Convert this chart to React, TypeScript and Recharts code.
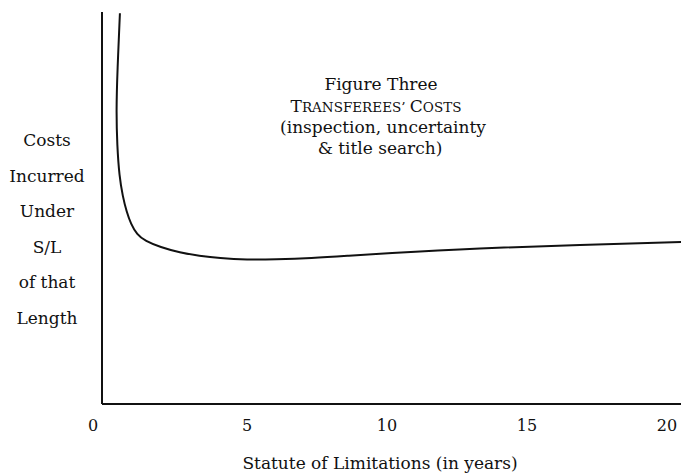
import { LineChart, Line, XAxis, YAxis } from 'recharts'

// years under the statute of limitations
const years = [0.46, 0.37, 0.33, 0.36, 0.44, 0.56, 0.7, 0.85, 1.07, 1.36, 1.9, 2.6, 3.3, 4.0, 5.0, 6.0, 7.3, 8.6, 9.8, 13.3, 16.9, 20.5]
// relative costs incurred (0 = axis, 100 = top of plot)
const costs = [99.7, 85, 75, 66, 58, 53, 49, 46, 43.2, 41.6, 40, 38.6, 37.8, 37.2, 36.8, 36.9, 37.2, 37.8, 38.4, 39.8, 40.6, 41.3]
const xTicks = [0, 5, 10, 15, 20]
const yLabelLines = ['Costs', 'Incurred', 'Under', 'S/L', 'of that', 'Length']
const titleLines = ['Figure Three', '(inspection, uncertainty', '& title search)']

const data = years.map((y, i) => ({ year: y, cost: costs[i] }))

const font = '"DejaVu Serif", "Liberation Serif", serif'

function Tick(props: any) {
  const { x, y, payload } = props
  const dx = payload.value === 0 ? -14 : 0
  return (
    <text x={x + dx} y={y} dy={19} textAnchor="middle" fontFamily={font} fontSize={16} fill="#111">
      {payload.value}
    </text>
  )
}

export default function App() {
  return (
    <div style={{ position: 'absolute', left: 0, top: 0, width: 681, height: 474, background: '#fff' }}>
      <LineChart width={681} height={474} data={data} margin={{ top: 12, right: 0, left: 100, bottom: 40 }}>
        <XAxis
          type="number"
          dataKey="year"
          domain={[-0.18, 20.5]}
          ticks={xTicks}
          tickLine={false}
          tick={<Tick />}
          axisLine={{ stroke: '#111', strokeWidth: 2 }}
          height={30}
          allowDataOverflow
        />
        <YAxis
          type="number"
          domain={[0, 100]}
          width={2}
          tick={false}
          tickLine={false}
          axisLine={{ stroke: '#111', strokeWidth: 2 }}
          allowDataOverflow
        />
        <Line
          type="basis"
          dataKey="cost"
          stroke="#111"
          strokeWidth={2}
          dot={false}
          isAnimationActive={false}
        />
      </LineChart>
      <svg width={681} height={474} style={{ position: 'absolute', left: 0, top: 0, pointerEvents: 'none' }}>
        <g fontFamily={font} fontSize={17} fill="#111" textAnchor="middle">
          {yLabelLines.map((t, i) => (
            <text key={t} x={47} y={146 + i * 35.5}>{t}</text>
          ))}
          <text x={381} y={90}>{titleLines[0]}</text>
          <text x={376} y={112}>
            <tspan>T</tspan>
            <tspan fontSize={13.5}>RANSFEREES’ </tspan>
            <tspan>C</tspan>
            <tspan fontSize={13.5}>OSTS</tspan>
          </text>
          <text x={383} y={133}>{titleLines[1]}</text>
          <text x={380} y={154}>{titleLines[2]}</text>
          <text x={380} y={469}>Statute of Limitations (in years)</text>
        </g>
      </svg>
    </div>
  )
}
